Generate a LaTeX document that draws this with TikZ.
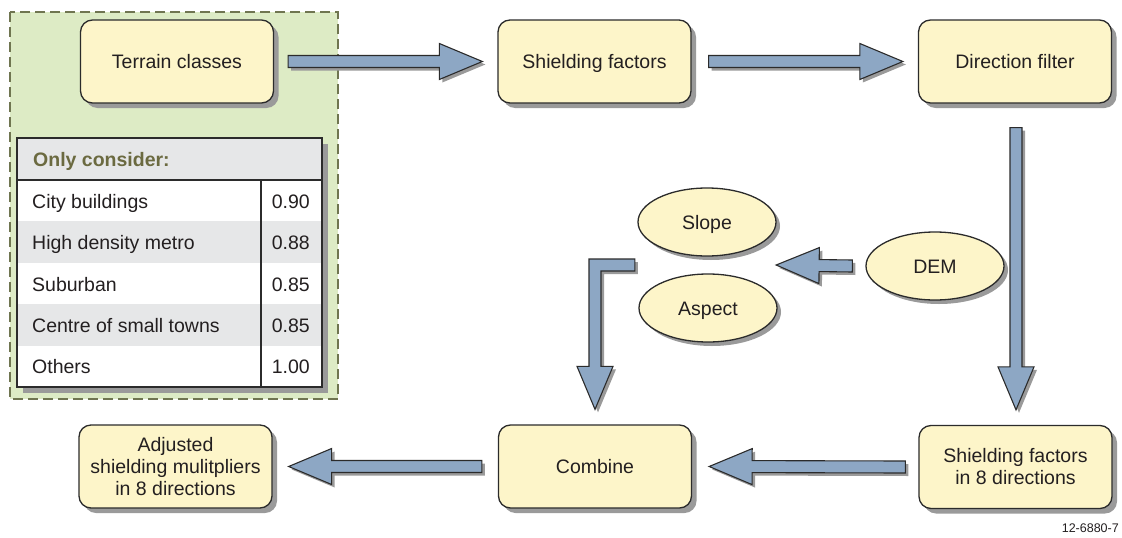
\documentclass[tikz,border=0pt]{standalone}
\usepackage{fontspec}
\setmainfont{Liberation Sans}
\usetikzlibrary{calc,shapes.geometric,shadows}

\definecolor{boxfill}{HTML}{FDF5C9}
\definecolor{inkline}{HTML}{2B2B2B}
\definecolor{arrowfill}{HTML}{8DA7C4}
\definecolor{shadowgray}{HTML}{9A9A9A}
\definecolor{panelgreen}{HTML}{DDEBC5}
\definecolor{paneldash}{HTML}{6F7550}
\definecolor{headolive}{HTML}{6B6A40}
\definecolor{rowgray}{HTML}{E6E7E8}
\definecolor{textdark}{HTML}{231F20}

\tikzset{
  txt/.style={font=\fontsize{19.5}{22}\selectfont, text=textdark},
  oneline/.style={text height=14pt, text depth=0pt},
  procbox/.style={txt, rectangle, rounded corners=12pt, draw=inkline, line width=1.3pt,
    fill=boxfill, minimum width=193pt, minimum height=83pt, align=center, inner sep=2pt,
    drop shadow={shadow xshift=5pt, shadow yshift=-5pt, fill=shadowgray, opacity=1}},
  dataoval/.style={txt, oneline, ellipse, draw=inkline, line width=1.3pt, fill=boxfill,
    minimum width=138pt, minimum height=68pt, inner sep=0pt,
    drop shadow={shadow xshift=4pt, shadow yshift=-4pt, fill=shadowgray, opacity=1}},
  cell/.style={txt, anchor=base west, inner sep=0pt},
  num/.style={txt, anchor=base east, inner sep=0pt},
  blockarrow/.style={draw=inkline, line width=1.1pt, fill=arrowfill, line join=miter,
    preaction={fill=shadowgray, transform canvas={shift={(3pt,-3pt)}}}},
  % straight block arrow: 12pt shaft, 36pt wide head, 43pt long head
  fat/.style={to path={
    ($(\tikztostart)!6pt!90:(\tikztotarget)$)
    -- ($(\tikztotarget)!43pt!(\tikztostart)!6pt!-90:(\tikztostart)$)
    -- ($(\tikztotarget)!43pt!(\tikztostart)!18pt!-90:(\tikztostart)$)
    -- (\tikztotarget)
    -- ($(\tikztotarget)!43pt!(\tikztostart)!18pt!90:(\tikztostart)$)
    -- ($(\tikztotarget)!43pt!(\tikztostart)!6pt!90:(\tikztostart)$)
    -- ($(\tikztostart)!6pt!-90:(\tikztotarget)$)
    -- cycle}},
}

\begin{document}
\begin{tikzpicture}[x=1pt,y=-1pt]
\useasboundingbox (0,0) rectangle (1122,538);

% terrain panel
\draw[fill=panelgreen, draw=paneldash, dash pattern=on 10pt off 5pt, line width=1.3pt]
  (10,12) rectangle (338,399);

% terrain table
\fill[shadowgray] (23,144) rectangle (328,393);
\fill[white] (17,138) rectangle (322,387);
\fill[rowgray] (17,138) rectangle (322,180);
\fill[rowgray] (17,221.4) rectangle (322,262.8);
\fill[rowgray] (17,304.2) rectangle (322,345.6);
\draw[inkline, line width=1.3pt] (17,138) rectangle (322,387);
\draw[inkline, line width=1.3pt] (17,180) -- (322,180);
\draw[inkline, line width=1.3pt] (261,180) -- (261,387);

\node[cell, text=headolive, font=\fontsize{19.5}{22}\selectfont\bfseries] (thead) at (33,166) {Only consider:};
\node[cell] (r1) at (32,208.2) {City buildings};
\node[cell] (r2) at (32,249.6) {High density metro};
\node[cell] (r3) at (32,291.0) {Suburban};
\node[cell] (r4) at (32,332.4) {Centre of small towns};
\node[cell] (r5) at (32,373.8) {Others};
\node[num] (v1) at (310,208.2) {0.90};
\node[num] (v2) at (310,249.6) {0.88};
\node[num] (v3) at (310,291.0) {0.85};
\node[num] (v4) at (310,332.4) {0.85};
\node[num] (v5) at (310,373.8) {1.00};

% process boxes
\node[procbox, oneline] (terrain) at (177,61.5) {Terrain classes};
\node[procbox, oneline] (shfac) at (594.5,61.5) {Shielding factors};
\node[procbox, oneline] (dirf) at (1015,61.5) {Direction filter};
\node[procbox] (sh8) at (1015.5,467) {Shielding factors\\in 8 directions};
\node[procbox, oneline] (combine) at (595,466.5) {Combine};
\node[procbox] (adjusted) at (175.5,466.5) {Adjusted\\shielding mulitpliers\\in 8 directions};

% terrain data
\node[dataoval] (slope) at (707,222) {Slope};
\node[dataoval] (aspect) at (708,308) {Aspect};
\node[dataoval] (dem) at (935,266) {DEM};

% arrow end points
\coordinate (a1s) at ($(terrain.east)+(14,0)$);
\coordinate (a1e) at ($(shfac.west)+(-15,0)$);
\coordinate (a2s) at ($(shfac.east)+(17,0)$);
\coordinate (a2e) at ($(dirf.west)+(-15,0)$);
\coordinate (a3s) at ($(dirf.south)+(1,24)$);
\coordinate (a3e) at ($(sh8.north)+(0.5,-15)$);
\coordinate (a4s) at ($(sh8.west)+(-13,0)$);
\coordinate (a4e) at ($(combine.east)+(17,0)$);
\coordinate (a5s) at ($(combine.west)+(-16,0)$);
\coordinate (a5e) at ($(adjusted.east)+(16,0)$);
\coordinate (a6s) at ($(dem.west)+(-13,0)$);
\coordinate (a6e) at ($(slope.east)!.5!(aspect.east)+(-1,0)$);
\coordinate (ls) at ($(slope.west)!.5!(aspect.west)+(-3,0)$);
\coordinate (le) at ($(combine.north)+(0,-15)$);
\coordinate (lb) at (le |- ls);

% block arrows
\draw[blockarrow] (a1s) to[fat] (a1e);
\draw[blockarrow] (a2s) to[fat] (a2e);
\draw[blockarrow] (a3s) to[fat] (a3e);
\draw[blockarrow] (a4s) to[fat] (a4e);
\draw[blockarrow] (a5s) to[fat] (a5e);
\draw[blockarrow] (a6s) to[fat] (a6e);
\draw[blockarrow] ($(ls)+(0,-6)$) -- ($(lb)+(-6,-6)$) -- ($(le)+(-6,-43)$)
  -- ($(le)+(-18,-43)$) -- (le) -- ($(le)+(18,-43)$) -- ($(le)+(6,-43)$)
  -- ($(lb)+(6,6)$) -- ($(ls)+(0,6)$) -- cycle;

\node[anchor=base east, inner sep=0pt, font=\fontsize{12.5}{14}\selectfont, text=textdark]
  (figid) at (1119,532) {12-6880-7};
\end{tikzpicture}
\end{document}
